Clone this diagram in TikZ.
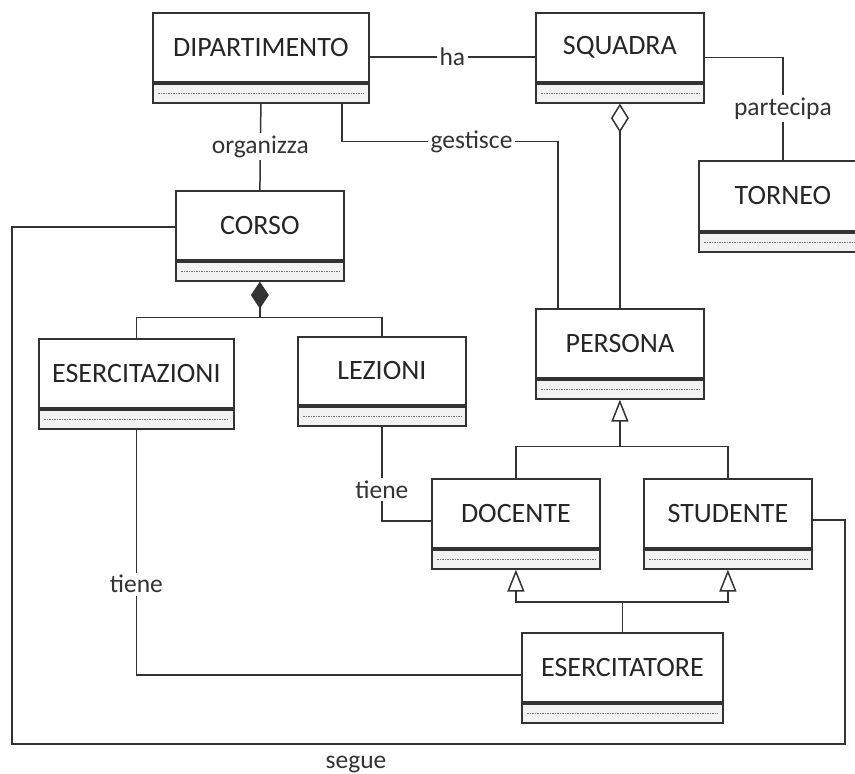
\documentclass[tikz,border=0pt]{standalone}
\usepackage{fontspec}
\setmainfont{Carlito}
\usetikzlibrary{arrows.meta}

\definecolor{ink}{HTML}{333333}
\definecolor{attrfill}{HTML}{F2F2F2}

\tikzset{
  clsname/.style={draw=ink, line width=1.8pt, fill=white, inner sep=0pt,
    text=black!85, font=\fontsize{28}{32}\selectfont},
  clsattr/.style={draw=ink, line width=1.8pt, fill=attrfill, inner sep=0pt,
    minimum height=19},
  attrdash/.style={draw=black!55, line width=0.9pt, dash pattern=on 1.6pt off 0.9pt},
  conn/.style={draw=ink, line width=1.5pt},
  lbl/.style={fill=white, inner sep=2.5pt, text=black!80,
    font=\fontsize{25.5}{28}\selectfont},
  aggr/.style={conn, {Diamond[open, length=29pt, width=18pt, line width=1.5pt]}-},
  comp/.style={conn, {Diamond[length=27pt, width=18pt]}-},
  gen/.style={conn, -{Triangle[open, length=22pt, width=17pt, line width=1.5pt]}},
}

% class box: name, left, top, width, height of the name part, title
\newcommand\umlclass[6]{%
  \node[clsname, minimum width=#4, minimum height=#5, anchor=north west] (#1) at (#2,#3) {#6};
  \node[clsattr, minimum width=#4, anchor=north] (#1a) at (#1.south) {};
  \draw[attrdash] ([xshift=6]#1a.west) -- ([xshift=-6]#1a.east);
}

\begin{document}
\begin{tikzpicture}[x=1pt, y=-1pt]
  \clip (0,0) rectangle (855,774);
  \fill[white] (0,0) rectangle (855,774);

  % classes
  \umlclass{dip}{152}{12}{216}{69}{DIPARTIMENTO}
  \umlclass{squ}{535}{12}{168}{69}{SQUADRA}
  \umlclass{tor}{698}{160}{168}{70}{TORNEO}
  \umlclass{cor}{175}{190}{168}{69}{CORSO}
  \umlclass{ese}{38}{338}{195}{69}{ESERCITAZIONI}
  \umlclass{lez}{297}{336}{168}{68}{LEZIONI}
  \umlclass{per}{535}{308}{168}{69}{PERSONA}
  \umlclass{doc}{431}{478}{168}{69}{DOCENTE}
  \umlclass{stu}{643}{478}{168}{69}{STUDENTE}
  \umlclass{esr}{521}{632}{201}{69}{ESERCITATORE}

  % associations
  \draw[conn] ([yshift=-9.5]dip.east) -- node[lbl]{ha} ([yshift=-9.5]squ.west);
  \draw[conn] ([yshift=-10]squ.east) -| node[lbl, pos=0.75]{partecipa} (tor.north);
  \draw[conn] (dipa.south) -- node[lbl]{organizza} (cor.north);
  \draw[conn] ([xshift=81]dipa.south) -- ++(0,38)
    -| node[lbl, pos=0.3]{gestisce} ([xshift=-62]per.north);

  % aggregation SQUADRA - PERSONA
  \draw[aggr] (squa.south) -- (per.north);

  % composition CORSO - ESERCITAZIONI / LEZIONI
  \draw[comp] (cora.south) -- ++(0,36) coordinate (cj);
  \draw[conn] (ese.north) |- (cj) -| (lez.north);

  % generalisation PERSONA <- DOCENTE, STUDENTE
  \coordinate (pj) at ([yshift=-47]pera.south);
  \draw[gen] (pj) -- (pera.south);
  \draw[conn] (doc.north) |- (pj) -| (stu.north);

  % generalisation DOCENTE, STUDENTE <- ESERCITATORE
  \coordinate (ej) at ([yshift=30]esr.north);
  \draw[conn] (esr.north) -- (ej);
  \draw[gen] (ej) -| (doca.south);
  \draw[gen] (ej) -| (stua.south);

  % "tiene" associations
  \draw[conn] (leza.south) |- node[lbl, pos=0.335]{tiene} ([yshift=-7.5]doc.west);
  \draw[conn] (esea.south) |- node[lbl, pos=0.315]{tiene} ([yshift=-7.5]esr.west);

  % "segue" association around the diagram
  \coordinate (segL) at (12,744);
  \coordinate (segR) at (845,744);
  \draw[conn] ([yshift=-1.5]cor.west) -| (segL)
    -- node[lbl, fill=none, pos=0.413, yshift=-20]{segue} (segR)
    |- ([yshift=-6.5]stu.east);
\end{tikzpicture}
\end{document}
